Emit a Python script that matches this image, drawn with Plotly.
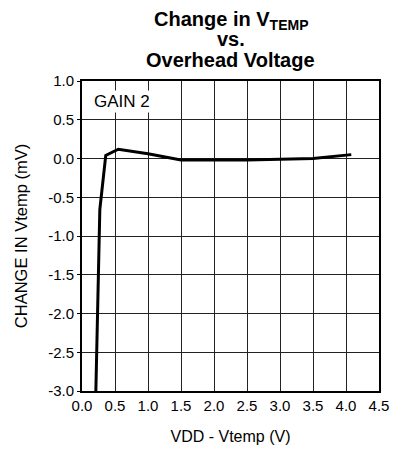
import plotly.graph_objects as go

x_vals = [0.21, 0.27, 0.36, 0.55, 1.0, 1.5, 2.0, 2.5, 3.0, 3.5, 4.08]
y_vals = [-3.0, -0.66, 0.04, 0.12, 0.06, -0.02, -0.02, -0.02, -0.01, 0.0, 0.05]

x_ticks = [0.0, 0.5, 1.0, 1.5, 2.0, 2.5, 3.0, 3.5, 4.0, 4.5]
y_ticks = [1.0, 0.5, 0.0, -0.5, -1.0, -1.5, -2.0, -2.5, -3.0]

title_lines = ["<b>Change in V<sub>TEMP</sub></b>", "<b>vs.</b>", "<b>Overhead Voltage</b>"]
title_y = [1.195, 1.135, 1.068]

font_family = "Liberation Sans, Arial, sans-serif"

fig = go.Figure()
fig.add_trace(go.Scatter(x=x_vals, y=y_vals, mode="lines",
                         line=dict(color="black", width=3), showlegend=False))

annotations = [dict(x=0.5, y=ty, xref="paper", yref="paper", text=t,
                    showarrow=False, xanchor="center", yanchor="middle",
                    font=dict(family=font_family, size=20, color="black"))
               for t, ty in zip(title_lines, title_y)]
annotations.append(dict(x=0.15, y=0.74, xref="x", yref="y", text="GAIN 2",
                        showarrow=False, xanchor="left", yanchor="middle",
                        font=dict(size=17, family=font_family, color="black"),
                        bgcolor="white"))

fig.update_layout(
    width=401, height=455,
    margin=dict(l=82, r=16, t=81, b=59),
    paper_bgcolor="white", plot_bgcolor="white",
    font=dict(family=font_family, size=15, color="black"),
    annotations=annotations,
)
fig.update_xaxes(range=[0, 4.5], tickvals=x_ticks,
                 ticktext=[f"{v:.1f}" for v in x_ticks],
                 tickfont=dict(size=15),
                 showgrid=True, gridcolor="#222", gridwidth=1,
                 showline=True, linecolor="black", linewidth=2, mirror=True,
                 zeroline=False, ticks="", ticklen=0,
                 title=dict(text="VDD - Vtemp (V)", standoff=18, font=dict(size=16)))
fig.update_yaxes(range=[-3, 1], tickvals=y_ticks,
                 ticktext=[f"{v:.1f}" for v in y_ticks],
                 tickfont=dict(size=15),
                 showgrid=True, gridcolor="#222", gridwidth=1,
                 showline=True, linecolor="black", linewidth=2, mirror=True,
                 zeroline=False, ticks="outside", ticklen=3, tickcolor="black",
                 title=dict(text="CHANGE IN Vtemp (mV)", standoff=16, font=dict(size=16.5)))

fig.write_html("out.html", config={"displayModeBar": False},
               post_script="document.body.style.margin='0';")
